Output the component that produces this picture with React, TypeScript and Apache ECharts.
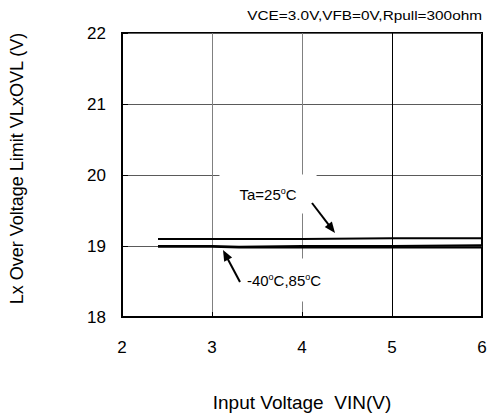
import React, { useEffect, useRef } from "react";
import * as echarts from "echarts";

const FONT = "'Liberation Sans', Arial, sans-serif";

const xTicks = [2, 3, 4, 5, 6];
const yTicks = [18, 19, 20, 21, 22];

const vin = [2.4, 3.0, 3.3, 4.0, 5.0, 6.0];
const vlx25 = [19.1, 19.1, 19.1, 19.1, 19.11, 19.11];
const vlxM40 = [19.0, 19.0, 18.99, 19.0, 19.0, 19.01];
const vlx85 = [18.99, 18.99, 18.98, 18.98, 18.98, 18.98];

const titleText = "VCE=3.0V,VFB=0V,Rpull=300ohm";
const xName = "Input Voltage  VIN(V)";
const yName = "Lx Over Voltage Limit VLxOVL (V)";

function arrow(x1: number, y1: number, x2: number, y2: number) {
  const dx = x2 - x1;
  const dy = y2 - y1;
  const len = Math.sqrt(dx * dx + dy * dy);
  const ux = dx / len;
  const uy = dy / len;
  const hl = 11;
  const hw = 4.5;
  const bx = x2 - ux * hl;
  const by = y2 - uy * hl;
  return [
    {
      type: "line",
      z: 101,
      shape: { x1, y1, x2: bx + ux * 2, y2: by + uy * 2 },
      style: { stroke: "#000", lineWidth: 2 },
    },
    {
      type: "polygon",
      z: 101,
      shape: {
        points: [
          [x2, y2],
          [bx - uy * hw, by + ux * hw],
          [bx + uy * hw, by - ux * hw],
        ],
      },
      style: { fill: "#000" },
    },
  ];
}

export default function App() {
  const ref = useRef<HTMLDivElement>(null);
  useEffect(() => {
    if (!ref.current) return;
    const chart = echarts.init(ref.current, undefined, { renderer: "svg" });
    const mk = (ys: number[]) => vin.map((x, i) => [x, ys[i]]);
    chart.setOption({
      animation: false,
      backgroundColor: "#fff",
      grid: {
        left: 118,
        right: 8,
        top: 33,
        bottom: 99,
        show: true,
        borderColor: "#000",
        borderWidth: 2,
        backgroundColor: "transparent",
      },
      xAxis: {
        type: "value",
        min: xTicks[0],
        max: xTicks[xTicks.length - 1],
        interval: 1,
        name: xName,
        nameLocation: "middle",
        nameGap: 76,
        nameTextStyle: { fontFamily: FONT, fontSize: 19, color: "#000" },
        axisLine: { show: true, onZero: false, lineStyle: { color: "#000", width: 2 } },
        axisTick: { show: true, inside: true, length: 5, lineStyle: { color: "#000" } },
        axisLabel: { fontFamily: FONT, fontSize: 17, color: "#000", margin: 22 },
        splitLine: {
          show: true,
          showMinLine: true,
          showMaxLine: true,
          lineStyle: { color: ["#000", "#808080", "#808080", "#000", "#000"], width: 1 },
        },
      },
      yAxis: {
        type: "value",
        min: yTicks[0],
        max: yTicks[yTicks.length - 1],
        interval: 1,
        name: yName,
        nameLocation: "middle",
        nameGap: 96,
        nameTextStyle: { fontFamily: FONT, fontSize: 18, color: "#000", padding: [0, 0, 0, 13] },
        axisLine: { show: true, onZero: false, lineStyle: { color: "#000", width: 2 } },
        axisTick: { show: true, inside: true, length: 6, lineStyle: { color: "#000" } },
        axisLabel: { fontFamily: FONT, fontSize: 17, color: "#000", margin: 16 },
        splitLine: { show: true, lineStyle: { color: "#5a5a5a", width: 1 } },
      },
      series: [
        {
          name: "Ta=25°C",
          type: "line",
          data: mk(vlx25),
          showSymbol: false,
          lineStyle: { color: "#000", width: 2 },
          z: 5,
        },
        {
          name: "-40°C",
          type: "line",
          data: mk(vlxM40),
          showSymbol: false,
          lineStyle: { color: "#000", width: 2 },
          z: 5,
        },
        {
          name: "85°C",
          type: "line",
          data: mk(vlx85),
          showSymbol: false,
          lineStyle: { color: "#000", width: 2 },
          z: 5,
        },
      ],
      graphic: [
        {
          type: "text",
          z: 100,
          x: 482,
          y: 16,
          scaleX: 1.28,
          style: {
            text: titleText,
            font: `12px ${FONT}`,
            fill: "#000",
            align: "right",
            verticalAlign: "middle",
          },
        },
        {
          type: "text",
          z: 100,
          x: 268,
          y: 194,
          style: {
            text: "Ta=25{sup|o}C",
            font: `15px ${FONT}`,
            fill: "#000",
            align: "center",
            verticalAlign: "middle",
            backgroundColor: "#fff",
            padding: [12, 20, 12, 20],
            rich: {
              sup: { fontSize: 9, fontFamily: FONT, verticalAlign: "top", fill: "#000" },
            },
          },
        },
        {
          type: "text",
          z: 100,
          x: 284,
          y: 280,
          style: {
            text: "-40{sup|o}C,85{sup|o}C",
            font: `15px ${FONT}`,
            fill: "#000",
            align: "center",
            verticalAlign: "middle",
            backgroundColor: "#fff",
            padding: [14, 14, 14, 14],
            rich: {
              sup: { fontSize: 9, fontFamily: FONT, verticalAlign: "top", fill: "#000" },
            },
          },
        },
        ...arrow(312, 203, 335, 233),
        ...arrow(240, 282, 223, 250),
      ],
    });
    return () => chart.dispose();
  }, []);
  return (
    <div
      ref={ref}
      style={{ position: "absolute", left: 0, top: 0, width: 490, height: 417 }}
    />
  );
}
